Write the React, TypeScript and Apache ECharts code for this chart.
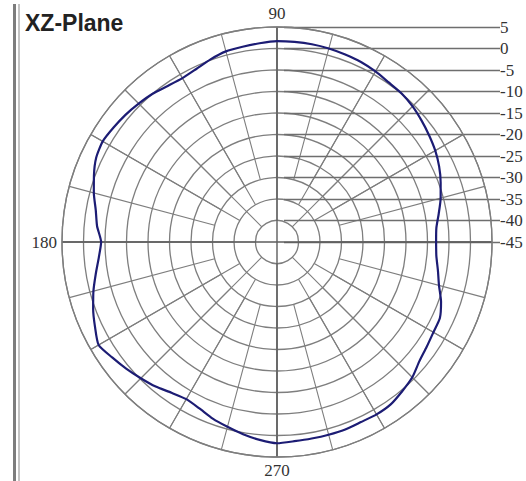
import React, { useEffect, useRef } from 'react';
import * as echarts from 'echarts';

// Angle of each sample (degrees, counter-clockwise from 0 at the right)
const angleDeg = [
  0, 5, 10, 15, 20, 25, 30, 35, 40, 45, 50, 55, 60, 65, 70, 75, 80, 85,
  90, 95, 100, 105, 110, 115, 120, 125, 130, 135, 140, 145, 150, 155, 160, 165, 170, 175,
  180, 185, 190, 195, 200, 205, 210, 215, 220, 225, 230, 235, 240, 245, 250, 255, 260, 265,
  270, 275, 280, 285, 290, 295, 300, 305, 310, 315, 320, 325, 330, 335, 340, 345, 350, 355, 360,
];

// Gain in dB
const gainDb = [
  -8.0, -7.8, -6.8, -5.6, -4.5, -3.4, -2.5, -1.8, -1.1, -0.4, 0.1, 0.3, 0.8, 1.2, 1.4, 1.6, 1.7, 1.7,
  1.7, 1.4, 1.1, 0.9, 0.2, -0.6, -1.0, -0.7, 0.0, 0.5, 1.0, 1.4, 1.8, 1.4, 0.3, -0.9, -2.2, -3.0,
  -4.1, -3.4, -2.2, -0.8, 0.5, 1.7, 2.9, 1.8, 0.8, -0.2, -1.1, -2.2, -2.8, -2.3, -1.3, -0.5, 0.4, 1.2,
  1.8, 1.5, 1.4, 1.4, 1.4, 1.2, 1.3, 1.1, 0.3, -0.5, -1.8, -2.5, -3.0, -3.2, -4.4, -6.0, -7.0, -7.8, -8.0,
];

// Radial scale (dB)
const radialMin = -45;
const radialMax = 5;
const radialStep = 5;

// Angle labels shown around the rim
const angleLabels = [90, 180, 270];

// Spoke layout: spokes at this angular step start at this ring number
const spokeRingStart = [1, 2, 3];
const spokeInterval = [45, 30, 15];

const title = 'XZ-Plane';

export default function App() {
  const ref = useRef<HTMLDivElement>(null);

  useEffect(() => {
    if (!ref.current) return;
    const chart = echarts.init(ref.current, null, { renderer: 'svg' });
    const cx = 277;
    const cy = 242;
    const R = 215;
    const ringCount = (radialMax - radialMin) / radialStep;
    const gridColor = '#7e7e7e';
    const axisColor = '#5e5e5e';
    const labelFont = 'Liberation Serif';

    const polar = [
      { center: [cx, cy], radius: [0, R] },
      ...spokeRingStart.map((ring) => ({ center: [cx, cy], radius: [(R * ring) / ringCount, R] })),
    ];

    const angleAxis: any[] = [
      {
        polarIndex: 0,
        type: 'value',
        min: 0,
        max: 360,
        interval: 90,
        startAngle: 0,
        clockwise: false,
        axisLine: { show: true, lineStyle: { color: gridColor, width: 1.3 } },
        axisTick: { show: false },
        axisLabel: {
          margin: 5,
          color: '#333',
          fontFamily: labelFont,
          fontSize: 17,
          formatter: (v: number) => (angleLabels.indexOf(v) >= 0 ? String(v) : ''),
        },
        splitLine: { show: true, lineStyle: { color: axisColor, width: 1.4 } },
        z: 3,
      },
      ...spokeInterval.map((iv, i) => ({
        polarIndex: i + 1,
        type: 'value',
        min: 0,
        max: 360,
        interval: iv,
        startAngle: 0,
        clockwise: false,
        axisLine: { show: false },
        axisTick: { show: false },
        axisLabel: { show: false },
        splitLine: { show: true, lineStyle: { color: gridColor, width: 1.1 } },
      })),
    ];

    const radiusAxis: any[] = [
      {
        polarIndex: 0,
        type: 'value',
        min: radialMin,
        max: radialMax,
        interval: radialStep,
        axisLine: { show: false },
        axisTick: { show: false },
        axisLabel: { show: false },
        splitLine: { show: true, lineStyle: { color: gridColor, width: 1.3 } },
      },
      ...spokeInterval.map((_, i) => ({
        polarIndex: i + 1,
        type: 'value',
        min: 0,
        max: 1,
        axisLine: { show: false },
        axisTick: { show: false },
        axisLabel: { show: false },
        splitLine: { show: false },
      })),
    ];

    chart.setOption({
      animation: false,
      backgroundColor: '#ffffff',
      polar,
      angleAxis,
      radiusAxis,
      grid: { left: 284, right: 26, top: cy - R, height: R, containLabel: false },
      xAxis: { type: 'value', show: false, min: 0, max: 1 },
      yAxis: {
        type: 'value',
        position: 'right',
        min: radialMin,
        max: radialMax,
        interval: radialStep,
        axisLine: { show: false },
        axisTick: { show: false },
        axisLabel: { margin: 0, align: 'left', color: '#333', fontFamily: labelFont, fontSize: 17 },
        splitLine: { show: true, lineStyle: { color: '#6e6e6e', width: 1.3 } },
      },
      graphic: [
        { type: 'rect', left: 13, top: 4, shape: { width: 3, height: 477 }, style: { fill: '#7d7d7d' } },
        { type: 'rect', left: 18, top: 4, shape: { width: 2, height: 477 }, style: { fill: '#c4c4c4' } },
        {
          type: 'text',
          left: 25,
          top: 11,
          style: {
            text: title,
            font: 'bold 23px "Liberation Sans", Arial, sans-serif',
            fill: '#222',
          },
        },
      ],
      series: [
        {
          type: 'line',
          coordinateSystem: 'polar',
          polarIndex: 0,
          data: angleDeg.map((a, i) => [gainDb[i], a]),
          showSymbol: false,
          smooth: 0.2,
          lineStyle: { color: '#1c1c74', width: 2.2 },
          z: 10,
        },
      ],
    });

    return () => chart.dispose();
  }, []);

  return (
    <div
      ref={ref}
      style={{ position: 'fixed', left: 0, top: 0, width: 526, height: 481, background: '#fff' }}
    />
  );
}
